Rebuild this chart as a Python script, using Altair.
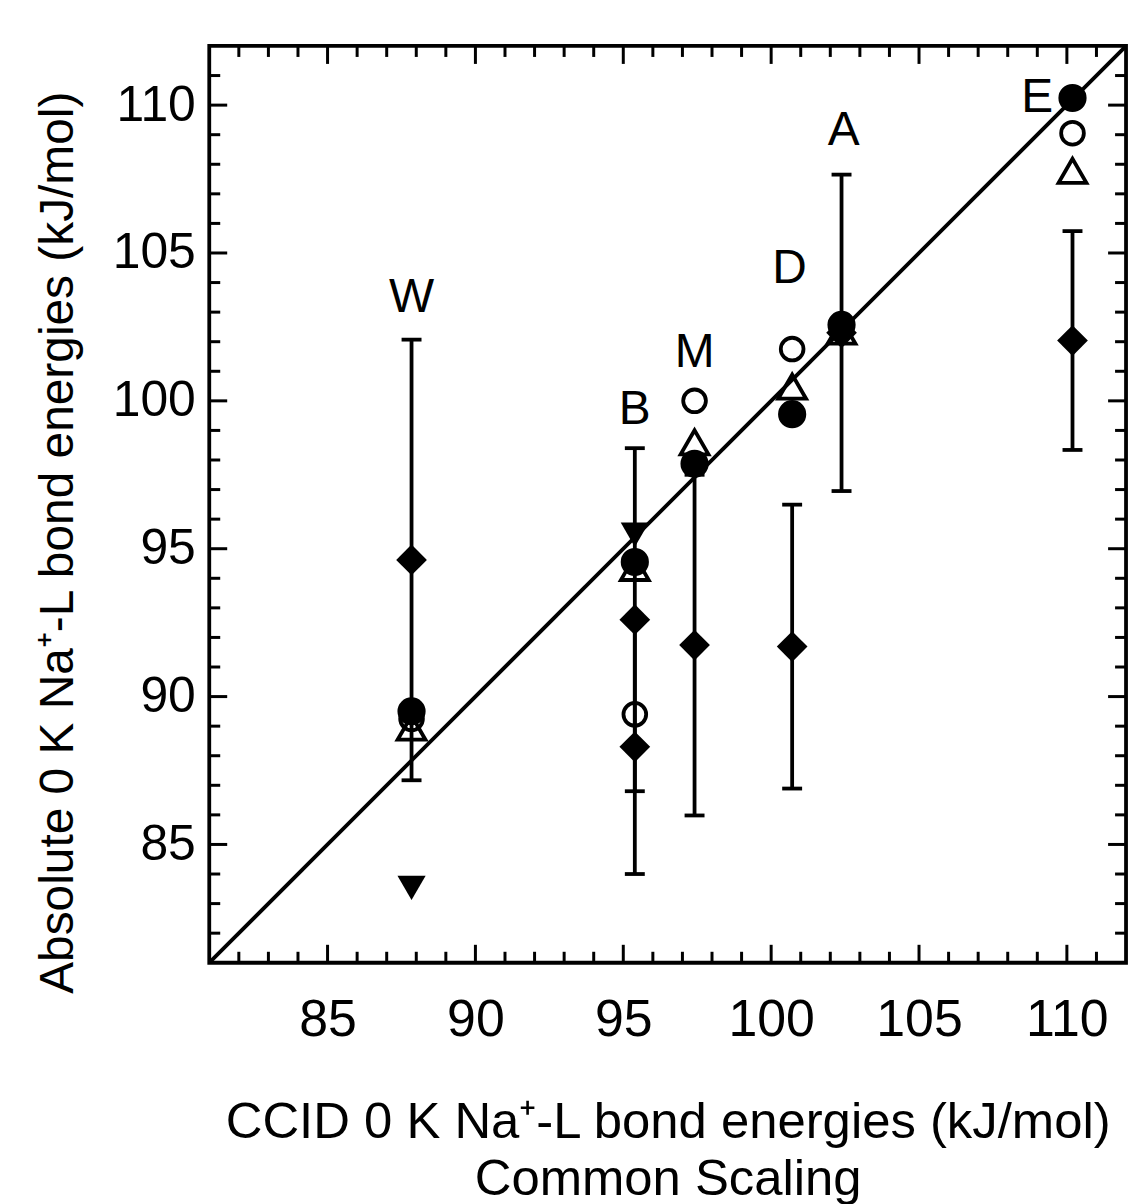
import altair as alt
import pandas as pd

# ---------------- data ----------------
compounds = ["W", "B", "M", "D", "A", "E"]
ccid_x = [87.84, 95.39, 97.41, 100.71, 102.38, 110.19]

# absolute values per compound (None = not plotted)
filled_circle = [89.50, 94.55, 97.87, 99.55, 102.57, 110.24]
open_circle = [89.25, 89.40, 100.00, 101.75, 102.50, 109.05]
open_triangle = [88.95, 94.35, 98.60, 100.48, 102.34, 107.78]
filled_tri_down = [83.53, 95.47, None, None, None, None]

# filled diamonds with error bars (B has two)
diamond_cmp = ["W", "B", "B", "M", "D", "A", "E"]
diamond_y = [94.62, 92.60, 88.30, 91.74, 91.69, 102.30, 102.04]
diamond_err = [7.45, 5.80, 4.30, 5.76, 4.80, 5.35, 3.70]

# label anchors (data units)
label_text = ["W", "B", "M", "D", "A", "E"]
label_x = [87.84, 95.39, 97.41, 100.62, 102.45, 109.0]
label_y = [103.46, 99.70, 101.60, 104.44, 109.12, 110.24]

diag = [81, 112]
major_ticks = [85, 90, 95, 100, 105, 110]
minor_ticks = [v for v in range(82, 112) if v % 5 != 0]

# ---------------- build tables ----------------
xmap = dict(zip(compounds, ccid_x))


def series(vals):
    return pd.DataFrame([(x, y) for x, y in zip(ccid_x, vals) if y is not None],
                        columns=["x", "y"])


df_fc = series(filled_circle)
df_oc = series(open_circle)
df_ot = series(open_triangle)
df_td = series(filled_tri_down)
df_dm = pd.DataFrame({
    "x": [xmap[c] for c in diamond_cmp],
    "y": diamond_y,
    "lo": [y - e for y, e in zip(diamond_y, diamond_err)],
    "hi": [y + e for y, e in zip(diamond_y, diamond_err)],
})
df_caps = pd.concat([
    df_dm[["x", "lo"]].rename(columns={"lo": "y"}),
    df_dm[["x", "hi"]].rename(columns={"hi": "y"}),
])
df_lab = pd.DataFrame({"t": label_text, "x": label_x, "y": label_y})
df_diag = pd.DataFrame({"d": diag})
df_major = pd.DataFrame({"v": major_ticks})
df_minor = pd.DataFrame({"v": minor_ticks})

# ---------------- styling ----------------
W, H = 920, 920
FONT = "Liberation Sans"
LW = 3.8

xs = alt.Scale(domain=[81, 112], nice=False, zero=False)
ys = alt.Scale(domain=[81, 112], nice=False, zero=False)

xaxis = alt.Axis(values=major_ticks, grid=False, domain=False, ticks=False, tickSize=0,
                 labelFont=FONT, labelFontSize=52, labelPadding=32, labelColor="black",
                 title=["CCID 0 K Na\u207a-L bond energies (kJ/mol)", "Common Scaling"],
                 titleFont=FONT, titleFontSize=51, titleFontWeight="normal",
                 titleColor="black", titlePadding=52, titleLineHeight=58)
yaxis = alt.Axis(values=major_ticks, grid=False, domain=False, ticks=False, tickSize=0,
                 labelFont=FONT, labelFontSize=50, labelPadding=14, labelColor="black",
                 title="Absolute 0 K Na\u207a-L bond energies (kJ/mol)",
                 titleFont=FONT, titleFontSize=48, titleFontWeight="normal",
                 titleColor="black", titlePadding=30, titleY=498)


def X(f):
    return alt.X(f, type="quantitative", scale=xs, axis=xaxis)


def Y(f):
    return alt.Y(f, type="quantitative", scale=ys, axis=yaxis)


line = alt.Chart(df_diag).mark_line(color="black", strokeWidth=LW, clip=True).encode(
    x=X("d"), y=Y("d"))

bars = alt.Chart(df_dm).mark_rule(color="black", strokeWidth=LW).encode(
    x=X("x"), y=Y("lo"), y2="hi")
caps = alt.Chart(df_caps).mark_tick(color="black", orient="horizontal", size=20,
                                    thickness=3.8, opacity=1).encode(x=X("x"), y=Y("y"))

p_ot = alt.Chart(df_ot).mark_point(shape="triangle-up", size=780, filled=False,
                                   color="black", strokeWidth=3.8, opacity=1).encode(
    x=X("x"), y=Y("y"))
p_oc = alt.Chart(df_oc).mark_point(shape="circle", size=520, filled=False,
                                   color="black", strokeWidth=3.8, opacity=1).encode(
    x=X("x"), y=Y("y"))
p_dm = alt.Chart(df_dm).mark_point(shape="diamond", size=950, filled=True,
                                   color="black", opacity=1).encode(x=X("x"), y=Y("y"))
p_fc = alt.Chart(df_fc).mark_point(shape="circle", size=800, filled=True,
                                   color="black", opacity=1).encode(x=X("x"), y=Y("y"))
p_td = alt.Chart(df_td).mark_point(shape="triangle-down", size=800, filled=True,
                                   color="black", opacity=1).encode(x=X("x"), y=Y("y"))

labels = alt.Chart(df_lab).mark_text(font=FONT, fontSize=48, color="black",
                                     align="center", baseline="middle").encode(
    x=X("x"), y=Y("y"), text="t:N")

MAJ, MIN = 18, 11


def xticks(df, ln):
    b = alt.Chart(df).mark_rule(color="black", strokeWidth=3).encode(
        x=X("v"), y=alt.value(H), y2=alt.value(H - ln))
    t = alt.Chart(df).mark_rule(color="black", strokeWidth=3).encode(
        x=X("v"), y=alt.value(0), y2=alt.value(ln))
    return [b, t]


def yticks(df, ln):
    l = alt.Chart(df).mark_rule(color="black", strokeWidth=3).encode(
        y=Y("v"), x=alt.value(0), x2=alt.value(ln))
    r = alt.Chart(df).mark_rule(color="black", strokeWidth=3).encode(
        y=Y("v"), x=alt.value(W), x2=alt.value(W - ln))
    return [l, r]


tick_layers = xticks(df_major, MAJ) + xticks(df_minor, MIN) + yticks(df_major, MAJ) + yticks(df_minor, MIN)

chart = alt.layer(
    line, bars, caps, p_ot, p_oc, p_dm, p_fc, p_td, labels, *tick_layers
).properties(
    width=W, height=H, background="white",
    padding={"left": 34, "top": 42, "right": 6, "bottom": 4},
).configure_view(stroke="black", strokeWidth=3.8)

chart.save("out.html", embed_options={"renderer": "svg", "actions": False})
